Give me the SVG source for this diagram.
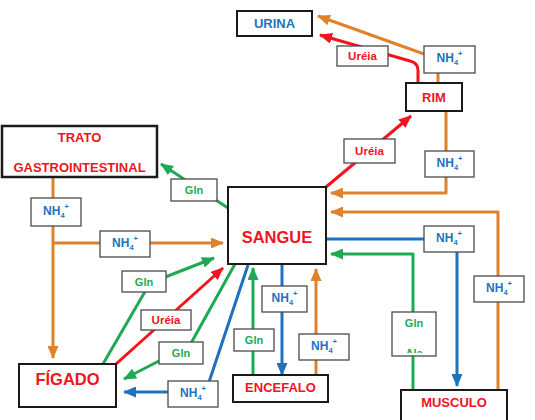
<svg xmlns="http://www.w3.org/2000/svg" width="535" height="420" viewBox="0 0 535 420">
<defs>
<marker id="ao" markerUnits="userSpaceOnUse" markerWidth="13" markerHeight="11" refX="12" refY="5.5" orient="auto"><path d="M0,0 L13,5.5 L0,11 z" fill="#E0812B"/></marker>
<marker id="ar" markerUnits="userSpaceOnUse" markerWidth="13" markerHeight="11" refX="12" refY="5.5" orient="auto"><path d="M0,0 L13,5.5 L0,11 z" fill="#F5141E"/></marker>
<marker id="ag" markerUnits="userSpaceOnUse" markerWidth="13" markerHeight="11" refX="12" refY="5.5" orient="auto"><path d="M0,0 L13,5.5 L0,11 z" fill="#1DAA52"/></marker>
<marker id="ab" markerUnits="userSpaceOnUse" markerWidth="13" markerHeight="11" refX="12" refY="5.5" orient="auto"><path d="M0,0 L13,5.5 L0,11 z" fill="#1F72C0"/></marker>
<clipPath id="clipAla"><rect x="393" y="313" width="42" height="40"/></clipPath>
</defs>
<style>
text{font-family:"Liberation Sans",Arial,sans-serif;font-weight:bold;text-anchor:middle}
.node{fill:#fff;stroke:#1a1a1a;stroke-width:2}
.lbl{fill:#fff;stroke:#4a4a4a;stroke-width:1.3}
.nt{fill:#F0141E;font-size:13px}
.nh{fill:#1F72C0;font-size:12px}
.sm{font-size:7.5px}
.gl{fill:#1DAA52;font-size:11px}
.ur{fill:#F0141E;font-size:11.5px}
.c{fill:none;stroke-width:3;stroke-linejoin:round}
.o{stroke:#E0812B}
.r{stroke:#F5141E}
.g{stroke:#1DAA52}
.b{stroke:#1F72C0}
</style>
<g id="connectors">
<polyline class="c o" points="424,54 318,16" marker-end="url(#ao)"/>
<polyline class="c o" points="438,83 438,73"/>
<polyline class="c o" points="446,111 446,193 331,193" marker-end="url(#ao)"/>
<polyline class="c o" points="498,392 498,212 331,212" marker-end="url(#ao)"/>
<polyline class="c o" points="316,375 316,269" marker-end="url(#ao)"/>
<polyline class="c o" points="53,177 53,358" marker-end="url(#ao)"/>
<polyline class="c o" points="53,243 223,243" marker-end="url(#ao)"/>
<path class="c r" d="M418,83 L418,70 Q418,63 410,61 L320,35" marker-end="url(#ar)"/>
<polyline class="c r" points="326,187 411,116" marker-end="url(#ar)"/>
<polyline class="c r" points="116,364 223,268" marker-end="url(#ar)"/>
<polyline class="c g" points="228,208 161,164" marker-end="url(#ag)"/>
<polyline class="c g" points="103,364 150,283 214,258" marker-end="url(#ag)"/>
<polyline class="c g" points="235,264 190,345 124,379" marker-end="url(#ag)"/>
<polyline class="c g" points="253,375 253,268" marker-end="url(#ag)"/>
<polyline class="c g" points="413,392 413,254 331,254" marker-end="url(#ag)"/>
<polyline class="c b" points="248,265 208,385 200,392 124,392" marker-end="url(#ab)"/>
<polyline class="c b" points="282,264 282,375" marker-end="url(#ab)"/>
<polyline class="c b" points="326,239 457,239 457,386" marker-end="url(#ab)"/>
</g>
<g id="urina"><rect class="node" x="237" y="11" width="75" height="25"/><text x="274.5" y="28" class="nt" style="fill:#1F72C0">URINA</text></g>
<g id="rim"><rect class="node" x="406" y="83" width="56" height="28"/><text x="434" y="102" class="nt">RIM</text></g>
<g id="trato"><rect class="node" x="2" y="126" width="155" height="51" style="stroke-width:2.5"/><text x="79.5" y="142" class="nt">TRATO</text><text x="79.5" y="172" class="nt">GASTROINTESTINAL</text></g>
<g id="sangue"><rect class="node" x="228" y="187" width="98" height="77"/><text x="277" y="243" class="nt" style="font-size:16.5px">SANGUE</text></g>
<g id="figado"><rect class="node" x="19" y="364" width="97" height="43"/><text x="67.5" y="385" class="nt" style="font-size:16.5px">FÍGADO</text></g>
<g id="encefalo"><rect class="node" x="233" y="375" width="95" height="27"/><text x="280.5" y="392" class="nt">ENCEFALO</text></g>
<g id="musculo"><rect class="node" x="401" y="390" width="106" height="34"/><text x="454" y="407" class="nt">MUSCULO</text></g>
<g id="labels">
<g id="l-nh4-urina"><rect class="lbl" x="424" y="46" width="51" height="27"/><text x="449.5" y="62" class="nh">NH<tspan class="sm" dy="3">4</tspan><tspan class="sm" dy="-9">+</tspan></text></g>
<g id="l-ureia-urina"><rect class="lbl" x="337" y="46" width="51" height="20"/><text x="362.5" y="60" class="ur">Uréia</text></g>
<g id="l-nh4-rim"><rect class="lbl" x="425" y="151" width="49" height="26"/><text x="449.5" y="167" class="nh">NH<tspan class="sm" dy="3">4</tspan><tspan class="sm" dy="-9">+</tspan></text></g>
<g id="l-ureia-rim"><rect class="lbl" x="344" y="139" width="51" height="24"/><text x="369.5" y="155" class="ur">Uréia</text></g>
<g id="l-gln-trato"><rect class="lbl" x="171" y="179" width="46" height="22"/><text x="194" y="194" class="gl">Gln</text></g>
<g id="l-nh4-trato"><rect class="lbl" x="31" y="198" width="50" height="28"/><text x="56" y="215" class="nh">NH<tspan class="sm" dy="3">4</tspan><tspan class="sm" dy="-9">+</tspan></text></g>
<g id="l-nh4-branch"><rect class="lbl" x="100" y="231" width="50" height="26"/><text x="125" y="247" class="nh">NH<tspan class="sm" dy="3">4</tspan><tspan class="sm" dy="-9">+</tspan></text></g>
<g id="l-nh4-musc-in"><rect class="lbl" x="424" y="226" width="50" height="26"/><text x="449" y="242" class="nh">NH<tspan class="sm" dy="3">4</tspan><tspan class="sm" dy="-9">+</tspan></text></g>
<g id="l-nh4-musc-out"><rect class="lbl" x="474" y="276" width="50" height="26"/><text x="499" y="292" class="nh">NH<tspan class="sm" dy="3">4</tspan><tspan class="sm" dy="-9">+</tspan></text></g>
<g id="l-glnala"><rect class="lbl" x="392" y="312" width="44" height="44"/><text x="414" y="327" class="gl">Gln</text><text x="414" y="357" class="gl" clip-path="url(#clipAla)">Ala</text></g>
<g id="l-gln-enc"><rect class="lbl" x="234" y="329" width="40" height="22"/><text x="254" y="344" class="gl">Gln</text></g>
<g id="l-nh4-enc-in"><rect class="lbl" x="262" y="286" width="45" height="26"/><text x="284.5" y="302" class="nh">NH<tspan class="sm" dy="3">4</tspan><tspan class="sm" dy="-9">+</tspan></text></g>
<g id="l-nh4-enc-out"><rect class="lbl" x="299" y="334" width="50" height="26"/><text x="324" y="350" class="nh">NH<tspan class="sm" dy="3">4</tspan><tspan class="sm" dy="-9">+</tspan></text></g>
<g id="l-gln-fig-out"><rect class="lbl" x="122" y="271" width="44" height="21"/><text x="144" y="286" class="gl">Gln</text></g>
<g id="l-ureia-fig"><rect class="lbl" x="141" y="310" width="50" height="20"/><text x="166" y="324" class="ur">Uréia</text></g>
<g id="l-gln-fig-in"><rect class="lbl" x="159" y="342" width="44" height="22"/><text x="181" y="357" class="gl">Gln</text></g>
<g id="l-nh4-fig"><rect class="lbl" x="168" y="381" width="50" height="26"/><text x="193" y="397" class="nh">NH<tspan class="sm" dy="3">4</tspan><tspan class="sm" dy="-9">+</tspan></text></g>
</g>
</svg>
